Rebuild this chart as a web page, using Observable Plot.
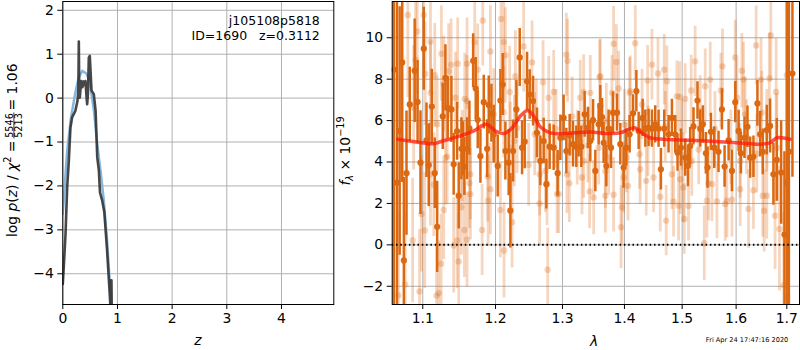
<!DOCTYPE html>
<html><head><meta charset="utf-8">
<script src="https://cdn.jsdelivr.net/npm/d3@7"></script>
<script src="https://cdn.jsdelivr.net/npm/@observablehq/plot@0.6"></script>
<style>
html,body{margin:0;padding:0;background:#fff;}
#chart{position:relative;width:800px;height:350px;font-family:"DejaVu Sans",sans-serif;overflow:hidden;}
#chart svg{position:absolute;top:0;}
</style></head><body><div id="chart"></div>
<script>
// ---------- left panel: log p(z) ----------
const zTicks = [0, 1, 2, 3, 4];
const lpTicks = [-4, -3, -2, -1, 0, 1, 2];
const zChi = [0, 0.02, 0.05, 0.08, 0.11, 0.14, 0.17, 0.23, 0.269, 0.285, 0.293, 0.30, 0.311, 0.336, 0.36, 0.38, 0.40, 0.415, 0.435, 0.446, 0.46, 0.476, 0.494, 0.525, 0.567, 0.60, 0.63, 0.66, 0.68, 0.72, 0.76, 0.81, 0.855, 0.873, 0.882, 0.89, 0.90, 0.92];
const lpChi = [-4.23, -3.8, -3.09, -2.03, -1.43, -0.67, -0.44, -0.29, -0.06, 0.2, 1.29, 0.3, 0.01, 0.39, 0.25, 0.38, 0.3, 0.39, 0.0, -0.14, 0.1, 0.92, 0.96, 0.17, 0.09, -0.29, -1.35, -1.65, -2.15, -2.33, -2.6, -3.47, -4.38, -4.8, -4.15, -4.15, -5.5, -6];
const zPz = [0, 0.04, 0.08, 0.15, 0.23, 0.29, 0.355, 0.43, 0.49, 0.57, 0.63, 0.69, 0.75, 0.81, 0.86, 0.89, 0.93];
const lpPz = [-2.64, -1.9, -1.2, -0.44, 0.13, 0.47, 0.62, 0.56, 0.39, -0.29, -1.05, -1.65, -2.33, -3.24, -4.23, -4.8, -6];
const infoLines = ["j105108p5818", "ID=1690\u00a0\u00a0\u00a0z=0.3112"];

// ---------- right panel: spectrum ----------
const lamTicks = [1.1, 1.2, 1.3, 1.4, 1.5, 1.6, 1.7];
const fTicks = [-2, 0, 2, 4, 6, 8, 10];
const wD = [1.0625,1.0733,1.0754,1.0788,1.0830,1.0894,1.0932,1.0970,1.1013,1.1049,1.1079,1.1119,1.1159,1.1191,1.1266,1.1302,1.1333,1.1383,1.1414,1.1461,1.1483,1.1520,1.1543,1.1561,1.1598,1.1631,1.1683,1.1719,1.1747,1.1785,1.1832,1.1880,1.1903,1.1941,
1.1974,1.2031,1.2070,1.2103,1.2142,1.2190,1.2215,1.2254,1.2303,1.2352,1.2387,1.2426,1.2461,1.2500,1.2551,1.2610,1.2661,1.2711,1.2752,1.2802,1.2864,1.2925,1.2967,1.3018,1.3060,1.3112,1.3165,1.3217,1.3254,1.3296,1.3349,1.3403,1.3440,1.3484,
1.3521,1.3575,1.3602,1.3630,1.3656,1.3700,1.3737,1.3777,1.3810,1.3876,1.3931,1.3986,1.4031,1.4087,1.4145,1.4201,1.4240,1.4308,1.4354,1.4410,1.4468,1.4525,1.4583,1.4624,1.4682,1.4758,1.4818,1.4877,1.4918,1.4978,1.5055,1.5104,1.5145,1.5205,
1.5278,1.5328,1.5377,1.5432,1.5462,1.5525,1.5587,1.5667,1.5731,1.5781,1.5857,1.5921,1.5984,1.6048,1.6092,1.6161,1.6219,1.6271,1.6335,1.6413,1.6466,1.6519,1.6598,1.6664,1.6730,1.6798,1.6885,1.6952,1.7042,1.7115,
1.0665,1.0700,1.7000];
const fD = [8.46,8.81,-0.75,3.46,6.78,8.41,6.90,3.97,9.47,5.05,3.85,6.68,3.46,0.87,6.20,8.06,6.62,6.54,3.89,5.48,2.37,4.64,4.64,3.78,4.64,5.63,8.89,7.55,6.04,4.28,6.89,4.64,6.75,6.35,
5.34,3.81,6.97,7.74,4.53,3.97,1.65,4.53,6.54,9.05,4.69,4.98,7.90,7.26,6.94,5.41,4.05,5.01,2.93,4.74,4.69,3.46,5.17,6.13,4.53,5.29,4.86,4.74,5.34,4.74,6.30,5.65,5.01,6.02,
3.57,5.82,6.70,6.17,4.93,3.81,5.61,4.69,6.38,6.38,4.86,3.73,4.69,5.34,6.35,7.42,5.50,6.13,5.61,5.65,5.61,5.82,5.61,3.65,5.61,5.34,6.13,5.34,4.45,4.69,4.21,3.81,4.77,5.72,
6.97,5.61,5.82,4.42,3.73,5.46,4.69,4.49,6.54,3.78,5.05,3.57,6.89,5.50,4.42,5.17,5.70,4.21,4.25,6.83,5.34,4.49,5.54,5.74,3.41,4.10,3.49,0.50,4.5,8.27,
3.0,5.5,3.0];
const eD = [12,5.8,4,3,1.8,2.5,2,2.5,2,1.8,2,1.8,1.7,2.2,1.6,1.6,1.5,1.6,1.5,1.4,1.6,1.5,1.3,1.4,1.5,1.3,1.3,1.5,1.4,1.3,1.3,1.4,1.4,1.4,
1.4,1.5,1.5,1.5,1.4,1.6,1.8,1.5,1.4,1.4,1.3,1.3,1.4,1.2,1.2,1.2,1.2,1.1,1.2,1.1,1.1,1.1,1.1,1.1,1.1,1.0,1.1,1.0,1.1,1.0,1.1,1.0,1.0,1.0,
1.0,1.0,1.0,0.9,1.0,1.0,0.9,1.0,1.0,0.9,1.0,1.0,0.9,0.9,0.9,1.0,0.9,0.9,0.9,0.9,0.9,0.9,0.9,1.0,0.9,0.9,0.9,0.9,0.9,0.9,0.9,1.0,0.9,0.9,
0.9,0.9,0.9,1.0,1.0,0.9,1.0,1.0,1.0,1.0,1.0,1.0,1.0,1.0,1.0,1.0,1.0,1.0,1.0,1.1,1.1,1.1,1.2,1.3,1.5,2.0,2.5,4.0,9.0,5.0,
10,6,9];
const wL = [1.0805,1.0927,1.1013,1.0905,1.1032,1.1102,1.1248,1.1379,1.1469,1.1598,1.1705,1.1818,1.1927,1.1159,1.1279,1.1346,1.1438,1.1566,1.1747,1.1191,1.1102,1.1146,1.1325,1.1631,1.1645,1.1889,1.1927,1.0983,1.1026,1.1279,1.1520,1.1561,1.1598,1.1809,1.1894,1.0867,1.0770,1.0684,1.0957,1.1182,1.1212,1.1244,1.1483,1.1414,1.1461,
1.2080,1.2118,1.2142,1.2410,1.2288,1.2536,1.2702,1.2787,1.2864,1.3060,1.3080,1.3280,1.3333,1.3440,1.2204,1.2118,1.2575,1.2485,1.2650,1.2737,1.2941,1.3107,1.3307,1.3429,1.3494,1.2070,1.2240,1.2650,1.2123,1.2772,1.2274,
1.3820,1.4182,1.3865,1.4468,1.4682,1.4573,1.3591,1.3903,1.4087,1.4393,1.4729,1.4954,1.5163,1.3575,1.3737,1.4031,1.4255,1.4267,1.4370,1.4496,1.4818,1.5021,1.4060,1.3684,1.3820,1.3959,1.4612,1.4847,1.4936,1.5115,1.3943,1.4717,1.5038,
1.5235,1.6678,1.6388,1.5742,1.6111,1.5984,1.5512,1.5420,1.5711,1.6485,1.6650,1.6785,1.7000,1.6142,1.5481,1.5543,1.5637,1.5792,1.5921,1.6078,1.6239,1.6335,1.6519,1.6545,1.6598,1.6763,1.5402,1.6851,1.6937,1.7009,
1.3602,1.3792,1.4098,1.4298,1.4907,1.5055,1.5173,1.5328,1.6017,1.6174,1.6498,1.6598,1.6798,1.3333,1.3684,1.3986,1.4966,1.5451,1.5825,1.6078,
1.1302,1.1530,1.1645,1.2215,1.2313,1.2762,1.2916,1.3070,1.3232,1.1102,1.0881,1.1598,1.1974,
1.2600,1.2900,1.3150,1.3400,1.3700,1.4000,1.4400,1.4700,1.5000,1.5300,1.5600,1.5900,1.6200,1.6400];
const fL = [11.1,10.3,11.1,8.94,8.25,9.82,9.23,8.70,8.75,8.75,9.79,10.83,9.34,8.19,7.77,8.38,7.10,7.05,8.46,5.82,3.41,2.90,4.26,2.98,3.41,3.30,2.69,1.49,0.69,1.68,1.81,0.72,0.25,0.72,2.13,0.21,-1.91,-2.44,-2.25,-2.45,-2.33,-0.91,-0.80,-0.03,0.21,
10.91,9.79,9.15,9.58,8.14,8.81,7.85,7.10,7.38,9.18,8.89,7.10,7.38,7.34,7.38,6.41,5.34,3.86,3.41,3.57,2.45,2.98,3.25,2.58,2.29,1.68,1.09,2.00,-0.27,-1.20,5.01,
9.71,9.74,8.83,8.70,8.46,8.27,8.09,7.55,7.34,7.93,7.90,7.14,7.45,4.69,4.21,4.21,4.38,3.65,3.09,3.25,3.41,2.77,2.85,2.37,2.42,1.81,2.32,2.08,1.89,1.89,0.85,1.17,1.25,
8.86,10.11,9.63,8.62,8.41,9.05,7.98,7.66,7.45,7.98,8.03,7.38,8.19,7.98,2.96,2.93,2.10,1.97,2.18,2.69,1.73,2.64,2.37,1.65,2.37,1.41,0.08,0.77,-1.95,-2.5,
8.14,7.34,7.42,6.78,7.18,7.05,4.05,6.46,7.10,6.30,6.38,5.50,4.69,4.05,3.57,3.25,3.17,2.13,2.13,4.05,
4.21,4.29,2.45,4.69,5.65,2.93,2.45,3.41,4.69,7.34,6.62,6.94,6.30,
6.0,5.6,6.2,4.8,6.0,5.8,5.0,5.7,5.3,4.6,5.6,4.7,5.2,4.4];
const eL = [4,3,3,3,2.5,2.5,2.3,2.2,2.2,2.2,2.2,2.2,2.2,2.5,2.3,2.3,2.2,2.2,2.2,2.3,2.5,2.5,2.3,2.2,2.2,2.2,2.2,2.8,2.8,2.4,2.3,2.3,2.3,2.2,2.2,3,3.5,4,3,2.5,2.5,2.4,2.3,2.3,2.3,
2.5,2.3,2.3,2.2,2.2,2.0,2.0,2.0,2.0,2.0,2.0,1.8,1.8,1.8,2.2,2.2,2.0,2.0,2.0,2.0,1.9,1.9,1.8,1.8,1.8,2.3,2.2,2.0,2.3,2.0,2.2,
1.8,1.8,1.8,1.7,1.7,1.7,1.8,1.8,1.7,1.7,1.7,1.7,1.7,1.8,1.8,1.7,1.7,1.7,1.7,1.7,1.7,1.7,1.7,1.8,1.8,1.8,1.7,1.7,1.7,1.7,2.0,1.7,1.7,
1.7,2.2,1.9,1.8,1.8,1.8,1.8,1.8,1.8,2.0,2.2,2.6,3.5,1.8,1.8,1.8,1.8,1.8,1.8,1.8,1.9,1.9,2.0,2.0,2.1,2.6,1.8,3.0,3.5,4,
1.8,1.8,1.7,1.7,1.7,1.7,1.7,1.7,1.8,1.8,2.0,2.0,2.6,1.8,1.8,1.7,1.7,1.8,1.8,1.8,
2.3,2.2,2.2,2.2,2.2,2.0,1.9,1.9,1.8,2.5,3,2.2,2.2,
2.0,1.9,1.9,1.8,1.8,1.7,1.7,1.7,1.7,1.7,1.8,1.8,1.8,1.9];
const wM = [1.0676,1.0992,1.1146,1.1235,1.1461,1.1691,1.1866,1.1998,1.2128,1.2240,1.2362,1.2470,1.2560,1.2661,1.2813,1.2967,1.3178,1.3440,1.3711,1.3931,1.4098,1.4182,1.4267,1.4439,1.4671,1.5145,1.5451,1.5760,1.6078,1.6466,1.6664,1.6798,1.6901,1.7067];
const fM = [5.10,4.93,4.88,4.98,5.21,5.50,5.82,5.50,5.38,5.65,6.22,6.49,6.22,5.69,5.41,5.37,5.41,5.45,5.38,5.41,5.61,5.65,5.46,5.17,5.10,5.05,5.01,4.97,4.92,4.86,4.93,5.17,5.17,5.10];
const stamp = "Fri Apr 24 17:47:16 2020";

const ORANGE = "#dc6912";
const FONT = "DejaVu Sans";
const intFmt = d => (d < 0 ? "\u2212" : "") + Math.abs(d);
const chart = document.getElementById("chart");

const chiData = zChi.map((z, i) => ({z, lp: lpChi[i]}));
const pzData = zPz.map((z, i) => ({z, lp: lpPz[i]}));

const left = Plot.plot({
  width: 340, height: 350,
  marginLeft: 62.3, marginRight: 6.7, marginTop: 1, marginBottom: 46,
  style: {fontFamily: FONT, fontSize: "13.9px", overflow: "visible", background: "transparent", color: "black"},
  x: {domain: [0, 4.957]},
  y: {domain: [-4.7, 2.2]},
  marks: [
    Plot.ruleX(zTicks, {stroke: "#b0b0b0", strokeWidth: 1}),
    Plot.ruleY(lpTicks, {stroke: "#b0b0b0", strokeWidth: 1}),
    Plot.line(pzData, {x: "z", y: "lp", stroke: "#86b6dc", strokeWidth: 2.5, clip: true}),
    Plot.line(chiData, {x: "z", y: "lp", stroke: "#333333", strokeWidth: 2.6, strokeOpacity: 0.9, clip: true}),
    Plot.text([infoLines.join("\n")], {frameAnchor: "top-right", dx: -14, dy: 13, textAnchor: "end", lineAnchor: "top", fontSize: 12.5, lineHeight: 1.17}),
    Plot.axisX({ticks: zTicks, tickSize: 5, tickPadding: 4, label: null, tickFormat: intFmt}),
    Plot.axisY({ticks: lpTicks, tickSize: 5, tickPadding: 4, label: null, tickFormat: intFmt}),
    Plot.frame({stroke: "black", strokeWidth: 1})
  ]
});
left.style.left = "0px";
chart.appendChild(left);

const dark = wD.map((w, i) => ({w, f: fD[i], e: eD[i]}));
const light = wL.map((w, i) => ({w, f: fL[i], e: eL[i]}));
const model = wM.map((w, i) => ({w, f: fM[i]}));

const right = Plot.plot({
  width: 460, height: 350,
  marginLeft: 51.7, marginRight: 1, marginTop: 1, marginBottom: 46,
  style: {fontFamily: FONT, fontSize: "13.9px", overflow: "visible", background: "transparent", color: "black"},
  x: {type: "log", domain: [1.0605, 1.726]},
  y: {domain: [-2.88, 11.75]},
  marks: [
    Plot.ruleX(lamTicks, {stroke: "#b0b0b0", strokeWidth: 1}),
    Plot.ruleY(fTicks, {stroke: "#b0b0b0", strokeWidth: 1}),
    Plot.ruleX(light, {x: "w", y1: d => d.f - d.e, y2: d => d.f + d.e, stroke: ORANGE, strokeOpacity: 0.27, strokeWidth: 2.8, clip: true}),
    Plot.dot(light, {x: "w", y: "f", r: 3.2, fill: ORANGE, fillOpacity: 0.28, clip: true}),
    Plot.ruleX(dark, {x: "w", y1: d => d.f - d.e, y2: d => d.f + d.e, stroke: ORANGE, strokeWidth: 2.5, clip: true}),
    Plot.dot(dark, {x: "w", y: "f", r: 3.1, fill: ORANGE, clip: true}),
    Plot.ruleY([0], {stroke: "black", strokeWidth: 2, strokeDasharray: "1.5,2.8"}),
    Plot.line(model, {x: "w", y: "f", stroke: "#ff1a0a", strokeOpacity: 0.75, strokeWidth: 3.5, curve: "catmull-rom", clip: true}),
    Plot.axisX({ticks: lamTicks, tickSize: 5, tickPadding: 4, label: null, tickFormat: d3.format(".1f")}),
    Plot.axisY({ticks: fTicks, tickSize: 5, tickPadding: 4, label: null, tickFormat: intFmt}),
    Plot.frame({stroke: "black", strokeWidth: 1})
  ]
});
right.style.left = "340px";
chart.appendChild(right);

// ----- axis labels -----
const L = d3.select(left);
L.append("text").attr("x", 197.8).attr("y", 345).attr("text-anchor", "middle")
  .attr("font-family", FONT).attr("font-size", 13.9).attr("font-style", "italic").text("z");
const gy = L.append("g").attr("transform", "translate(16.5,125.5) rotate(-90)")
  .attr("font-family", FONT).attr("font-size", 13.9).attr("fill", "black");
const t1 = gy.append("text").attr("x", -15).attr("text-anchor", "end");
t1.append("tspan").text("log ");
t1.append("tspan").attr("font-style", "italic").text("p");
t1.append("tspan").text("(");
t1.append("tspan").attr("font-style", "italic").text("z");
t1.append("tspan").text(") / ");
t1.append("tspan").attr("font-style", "italic").text("χ");
t1.append("tspan").attr("font-size", 9.7).attr("dy", -6).text("2");
t1.append("tspan").attr("dy", 6).text(" =");
gy.append("text").attr("x", 0).attr("y", -4).attr("text-anchor", "middle").attr("font-size", 9.7).text("5546");
gy.append("line").attr("x1", -13).attr("x2", 13).attr("y1", -2.6).attr("y2", -2.6).attr("stroke", "black").attr("stroke-width", 0.8);
gy.append("text").attr("x", 0).attr("y", 5).attr("text-anchor", "middle").attr("font-size", 9.7).text("5213");
gy.append("text").attr("x", 15).attr("text-anchor", "start").text("= 1.06");

const R = d3.select(right);
R.append("text").attr("x", 254).attr("y", 346).attr("text-anchor", "middle")
  .attr("font-family", FONT).attr("font-size", 13.9).attr("font-style", "italic").text("λ");
const ry = R.append("text").attr("transform", "translate(9.5,151) rotate(-90)").attr("text-anchor", "middle")
  .attr("font-family", FONT).attr("font-size", 13.9);
ry.append("tspan").attr("font-style", "italic").text("f");
ry.append("tspan").attr("font-style", "italic").attr("font-size", 9.7).attr("dy", 3).text("λ");
ry.append("tspan").attr("dy", -3).text(" × 10");
ry.append("tspan").attr("font-size", 9.7).attr("dy", -6).text("−19");
R.append("text").attr("x", 448.3).attr("y", 342).attr("text-anchor", "end")
  .attr("font-family", FONT).attr("font-size", 6.6).text(stamp);
</script></body></html>
